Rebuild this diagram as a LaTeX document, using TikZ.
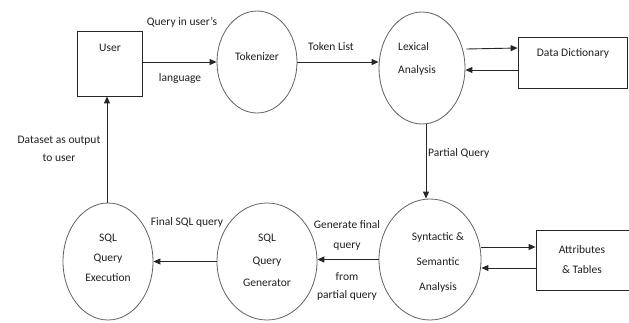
\documentclass[tikz,border=0pt]{standalone}
\usepackage{fontspec}
\setmainfont{Carlito}
\usetikzlibrary{shapes.geometric,arrows.meta,calc}
\begin{document}
\begin{tikzpicture}[x=1pt,y=-1pt,
  every node/.style={font=\fontsize{11.5}{14}\selectfont, text=black!88, inner sep=0pt},
  proc/.style={draw=black!62, line width=0.8pt, ellipse},
  store/.style={draw=black!85, line width=0.8pt, rectangle},
  lines/.style={align=center, font=\fontsize{11.5}{#1}\selectfont},
  arr/.style={draw=black!85, line width=0.9pt, -{Triangle[length=7pt,width=6pt]}}
]
\useasboundingbox (0,0) rectangle (629,322);
\clip (0,0) rectangle (629,322);

% external entities and data stores
\node[store, minimum width=65, minimum height=65] (user) at (109.5,63.5) {};
\node (usert) at (110,48) {User};
\node[store, minimum width=109, minimum height=51] (dd) at (572.5,62.5) {};
\node (ddt) at (573,53) {Data Dictionary};
\node[store, minimum width=124, minimum height=60] (attr) at (598,260) {};
\node[lines=20] (attrt) at (582,260) {Attributes\\\& Tables};

% processes
\node[proc, minimum width=80, minimum height=102] (tok) at (257,62) {};
\node (tokt) at (257,57) {Tokenizer};
\node[proc, minimum width=86, minimum height=112] (lex) at (422,68) {};
\node[lines=23, align=left, anchor=west] (lext) at (398,58.5) {Lexical\\Analysis};
\node[proc, minimum width=102, minimum height=121] (syn) at (430,259.5) {};
\node[lines=25] (synt) at (438,262) {Syntactic \&\\Semantic\\Analysis};
\node[proc, minimum width=100, minimum height=117] (gen) at (267,261.5) {};
\node[lines=22.5] (gent) at (267,260.5) {SQL\\Query\\Generator};
\node[proc, minimum width=90, minimum height=117] (exe) at (108,261.5) {};
\node[lines=20] (exet) at (108,258) {SQL\\Query\\Execution};

% data flows
\draw[arr] (tok.west -| user.east) -- (tok.west);
\draw[arr] (tok.east) -- (tok.east -| lex.west);
\draw[arr] ($(lex.east)+(1,-19)$) -- ($(dd.west)+(0,-14.5)$);
\draw[arr] ($(dd.west)+(0,7.5)$) -- ($(lex.east)+(0,2)$);
\draw[arr] ($(lex.south)+(4,0)$) -- ($(syn.north)+(-4,0)$);
\draw[arr] ($(syn.east)+(0,-12.5)$) -- ($(attr.west)+(0,-13)$);
\draw[arr] ($(attr.west)+(0,8)$) -- ($(syn.east)+(0,8.5)$);
\draw[arr] (syn.west) -- (syn.west -| gen.east);
\draw[arr] (gen.west) -- (gen.west -| exe.east);
\draw[arr] ($(exe.north)+(-1,0)$) -- ($(user.south)+(-2.5,0)$);

% flow labels
\node (l1) at (182,22) {Query in user's};
\node (l2) at (180,78) {language};
\node (l3) at (331,47) {Token List};
\node[anchor=west] (l4) at (428,153) {Partial Query};
\node[lines=20] (l5) at (347,235) {Generate final\\query};
\node[lines=18] (l6) at (347,286) {from\\partial query};
\node (l7) at (187,222) {Final SQL query};
\node[lines=18] (l8) at (59,149) {Dataset as output\\to user};
\end{tikzpicture}
\end{document}
